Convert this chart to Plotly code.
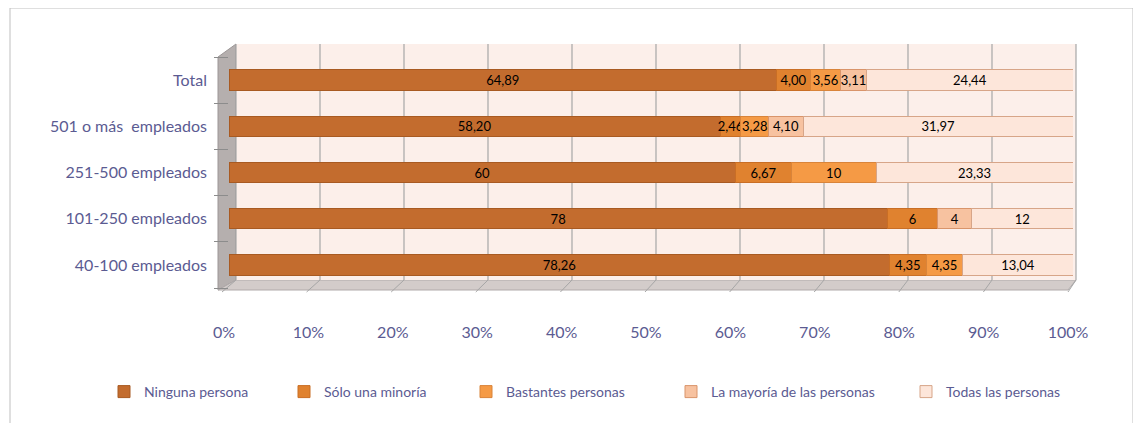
import plotly.graph_objects as go

categories = ["40-100 empleados", "101-250 empleados", "251-500 empleados", "501 o más  empleados", "Total"]
series_names = ["Ninguna persona", "Sólo una minoría", "Bastantes personas", "La mayoría de las personas", "Todas las personas"]
ninguna = [78.26, 78, 60, 58.20, 64.89]
minoria = [4.35, 6, 6.67, 2.46, 4.00]
bastantes = [4.35, 0, 10, 3.28, 3.56]
mayoria = [0, 4, 0, 4.10, 3.11]
todas = [13.04, 12, 23.33, 31.97, 24.44]
tick_values = [0, 10, 20, 30, 40, 50, 60, 70, 80, 90, 100]
tick_labels = ["0%", "10%", "20%", "30%", "40%", "50%", "60%", "70%", "80%", "90%", "100%"]

series = [ninguna, minoria, bastantes, mayoria, todas]
colors = ["#C36C2E", "#E0822F", "#F59A45", "#F7C2A0", "#FDE6DA"]
line_colors = ["#A85A22", "#C96E25", "#D9843A", "#D9946A", "#D7A588"]

FONT = "Lato, Roboto, sans-serif"
LABEL_COLOR = "#5B5B92"

# page body has an 8px margin: work in screen pixels and subtract it
OFF = 8
FW, FH = 1141 - OFF, 423 - OFF
L, R, T, B = 229 - OFF, 1073 - OFF, 57 - OFF, 288 - OFF
W, H = R - L, B - T
legend_x_px = [104, 284, 466, 671, 906]


def px2x(px):
    return (px - OFF - L) / W


def py2y(py):
    return (B - (py - OFF)) / H


fig = go.Figure()
for i, (name, vals) in enumerate(zip(series_names, series)):
    texts = []
    for j, v in enumerate(vals):
        if v == 0:
            texts.append("")
        elif float(v).is_integer() and categories[j] != "Total":
            texts.append(str(int(v)))
        else:
            texts.append(f"{v:.2f}".replace(".", ","))
    fig.add_trace(go.Bar(
        y=categories, x=vals, name=name, orientation="h",
        marker=dict(color=colors[i], line=dict(color=line_colors[i], width=1)),
        text=texts, textposition="inside", insidetextanchor="middle",
        textangle=0, constraintext="none",
        textfont=dict(family=FONT, size=13, color="#000000"),
        width=0.44,
        legend="legend" if i == 0 else f"legend{i+1}",
        hoverinfo="skip",
    ))

legends = {}
for i, xp in enumerate(legend_x_px):
    key = "legend" if i == 0 else f"legend{i+1}"
    legends[key] = dict(
        xref="container", yref="container",
        x=(xp - OFF) / FW, y=1 - (392 - OFF) / FH, xanchor="left", yanchor="middle",
        orientation="h", bgcolor="rgba(0,0,0,0)",
        font=dict(family=FONT, size=14, color=LABEL_COLOR),
        itemwidth=30, tracegroupgap=0,
    )

BW0, BW1 = 236, 1076   # back-wall 0% and 100%
FL0, FL1 = 222, 1068   # floor front edge 0% and 100%
shapes = [
    dict(type="rect", xref="paper", yref="paper", x0=px2x(10), x1=px2x(1133), y0=py2y(440), y1=py2y(8),
         line=dict(color="#BFBFBF", width=1), fillcolor="rgba(0,0,0,0)", layer="below"),
    dict(type="path", xref="paper", yref="paper",
         path=f"M {px2x(218)},{py2y(290)} L {px2x(218)},{py2y(57)} L {px2x(BW0)},{py2y(44)} L {px2x(BW0)},{py2y(280)} Z",
         fillcolor="#B5AFAE", line=dict(color="#9C9696", width=1), layer="below"),
    dict(type="path", xref="paper", yref="paper",
         path=f"M {px2x(218)},{py2y(290)} L {px2x(BW0)},{py2y(280)} L {px2x(BW1)},{py2y(280)} L {px2x(FL1)},{py2y(290)} Z",
         fillcolor="#D3CCCA", line=dict(color="#B0AAAA", width=1), layer="below"),
    dict(type="rect", xref="paper", yref="paper", x0=px2x(BW0), x1=px2x(BW1), y0=py2y(280), y1=py2y(44),
         fillcolor="#FCEFEA", line=dict(width=0), layer="below"),
]
for tv in tick_values:
    xp = BW0 + (BW1 - BW0) * tv / 100
    shapes.append(dict(type="line", xref="paper", yref="paper", x0=px2x(xp), x1=px2x(xp),
                       y0=py2y(280), y1=py2y(44), line=dict(color="#A6A6A6", width=1.2), layer="below"))
    xb = FL0 + (FL1 - FL0) * tv / 100
    shapes.append(dict(type="line", xref="paper", yref="paper", x0=px2x(xp), x1=px2x(xb),
                       y0=py2y(280), y1=py2y(292), line=dict(color="#A6A6A6", width=1), layer="below"))

fig.update_layout(
    width=FW, height=FH,
    margin=dict(l=L, r=FW - R, t=T, b=FH - B, autoexpand=False),
    barmode="stack",
    paper_bgcolor="white", plot_bgcolor="rgba(0,0,0,0)",
    showlegend=True,
    uniformtext=dict(mode="show", minsize=13),
    xaxis=dict(range=[0, 100], tickvals=tick_values, ticktext=tick_labels,
               showgrid=False, zeroline=False, showline=False, automargin=False,
               tickfont=dict(family=FONT, size=16, color=LABEL_COLOR),
               ticklabelstandoff=33, ticklabelshift=-5, fixedrange=True),
    yaxis=dict(categoryorder="array", categoryarray=categories, showgrid=False, automargin=False,
               tickfont=dict(family=FONT, size=16, color=LABEL_COLOR),
               ticks="outside", tickson="boundaries", ticklen=14, tickcolor="#8C8C8C",
               ticklabelstandoff=21, fixedrange=True),
    shapes=shapes,
    **legends,
)

fig.write_html("out.html")
